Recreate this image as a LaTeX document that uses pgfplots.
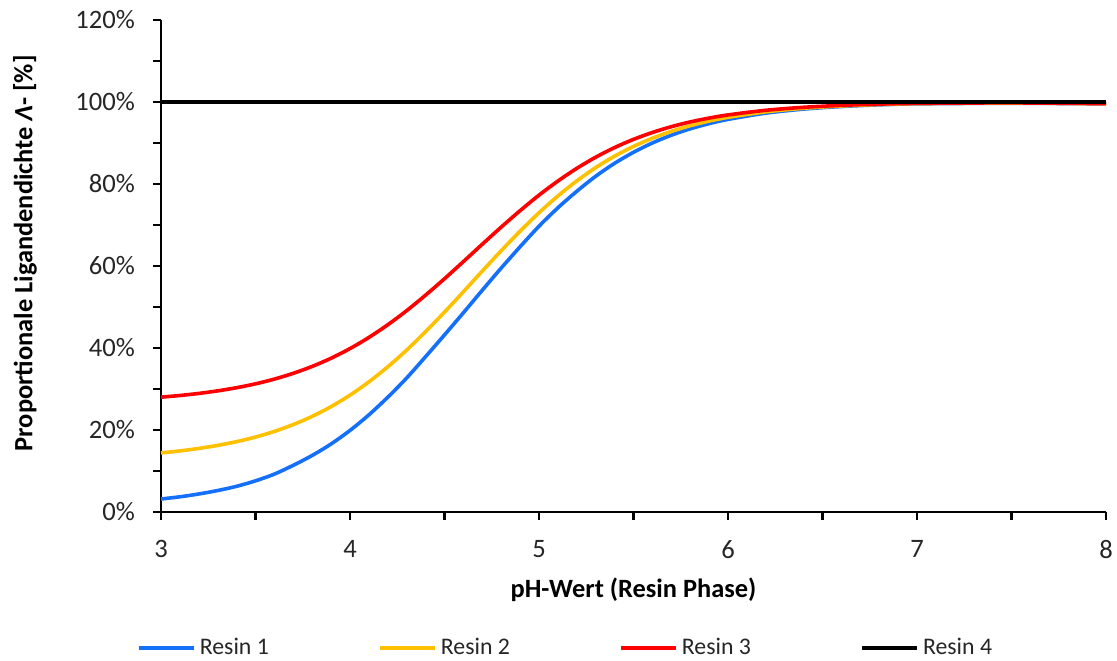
\documentclass[border=0pt]{standalone}
\usepackage{fontspec}
\setmainfont{Carlito}
\usepackage{pgfplots}
\usepackage{pgfplotstable}
\pgfplotsset{compat=1.18}
\definecolor{rblue}{RGB}{20,112,250}
\definecolor{ryellow}{RGB}{255,192,0}
\definecolor{rred}{RGB}{255,0,0}

\pgfplotstableread{
ph r1 r2 r3
3.0 3.17 14.42 28.01
3.1 3.71 14.90 28.42
3.2 4.40 15.50 28.92
3.3 5.24 16.25 29.55
3.4 6.27 17.16 30.32
3.5 7.60 18.28 31.26
3.6 9.25 19.66 32.42
3.7 11.40 21.33 33.83
3.8 13.80 23.33 35.51
3.9 16.60 25.71 37.51
4.0 19.90 28.50 39.86
4.1 23.70 31.74 42.58
4.2 28.00 35.42 45.68
4.3 32.70 39.51 49.12
4.4 37.90 44.00 52.90
4.5 43.20 48.76 56.90
4.6 48.60 53.73 61.08
4.7 54.10 58.77 65.32
4.8 59.50 63.73 69.49
4.9 64.70 68.50 73.50
5.0 69.70 72.99 77.28
5.1 74.20 77.08 80.72
5.2 78.23 80.76 83.82
5.3 81.89 84.00 86.54
5.4 85.05 86.79 88.89
5.5 87.74 89.17 90.89
5.6 90.01 91.17 92.57
5.7 91.90 92.84 93.98
5.8 93.46 94.22 95.14
5.9 94.73 95.35 96.08
6.0 95.76 96.26 96.85
6.2 97.29 97.60 97.98
6.4 98.27 98.47 98.71
6.6 98.90 99.03 99.18
6.8 99.31 99.39 99.48
7.0 99.55 99.61 99.67
7.5 99.70 99.75 99.78
8.0 99.55 99.58 99.60
}\resins

\begin{document}
\begin{tikzpicture}
\begin{axis}[
  at={(0,0)}, anchor=south west,
  scale only axis, width=472.5pt, height=246pt,
  xmin=3, xmax=8, ymin=0, ymax=120,
  axis x line=bottom, axis y line=left,
  axis line style={-, line width=1.4pt, black},
  xtick={3,4,5,6,7,8}, minor xtick={3.5,4.5,5.5,6.5,7.5},
  ytick={0,20,40,60,80,100,120}, minor ytick={10,30,50,70,90,110},
  tick align=outside, major tick length=4pt, minor tick length=4pt,
  every tick/.style={black, line width=1.2pt},
  yticklabel={\pgfmathprintnumber{\tick}\%},
  /pgf/number format/assume math mode=true,
  ticklabel style={font=\fontsize{13.3}{15}\selectfont, text=black!85},
  xticklabel style={yshift=-6.5pt},
  yticklabel style={xshift=-5.5pt},
  xlabel={pH-Wert (Resin Phase)},
  ylabel={Proportionale Ligandendichte \textit{Λ}- [\%]},
  label style={font=\bfseries\fontsize{13.2}{15}\selectfont},
  xlabel style={at={(axis description cs:0.5,-0.1585)}, anchor=center},
  ylabel style={at={(axis description cs:-0.1439,0.526)}, anchor=center, rotate=0},
  legend columns=4,
  legend style={at={(axis description cs:-0.026,-0.2764)}, anchor=west, draw=none, fill=none,
    inner sep=0pt, font=\fontsize{11.9}{14}\selectfont,
    nodes={inner sep=2pt, text=black!85},
    /tikz/every even column/.append style={column sep=52.5pt}},
  legend image code/.code={\draw[#1, line width=2pt] (0pt,0pt) -- (27.5pt,0pt);},
  clip=false,
]
\addplot[rblue, line width=1.8pt, smooth] table[x=ph, y=r1] {\resins};
\addlegendentry{Resin 1}
\addplot[ryellow, line width=1.8pt, smooth] table[x=ph, y=r2] {\resins};
\addlegendentry{Resin 2}
\addplot[rred, line width=1.8pt, smooth] table[x=ph, y=r3] {\resins};
\addlegendentry{Resin 3}
\addplot[black, line width=1.8pt] coordinates {(3,100) (8,100)};
\addlegendentry{Resin 4}
\end{axis}
\pgfresetboundingbox
\path[use as bounding box] (-80.5pt,-74pt) rectangle (478pt,256pt);
\end{tikzpicture}
\end{document}
